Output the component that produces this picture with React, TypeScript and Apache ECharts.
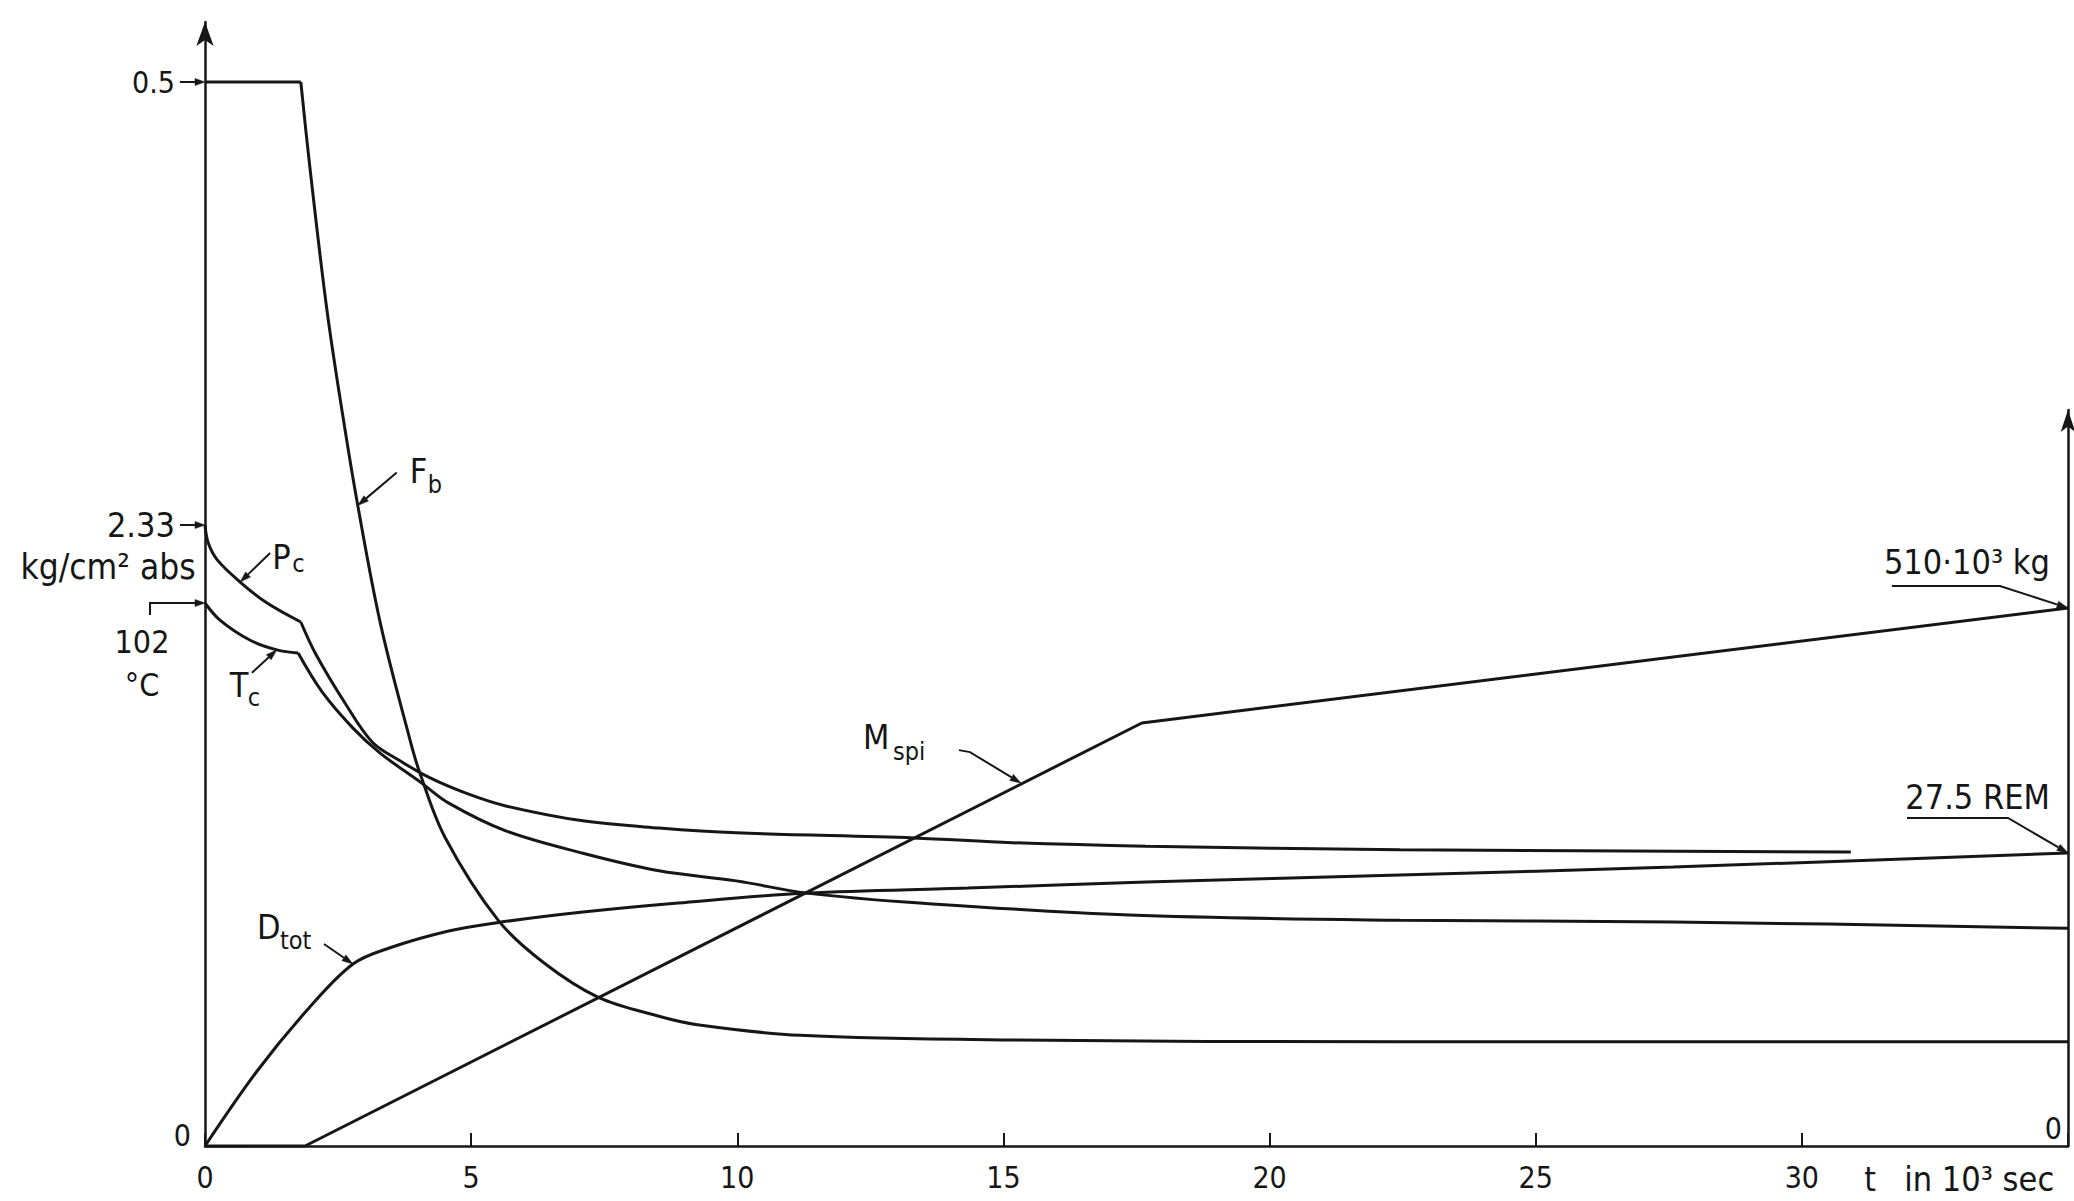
import React, { useEffect, useRef } from "react";
import * as echarts from "echarts";

const FONT = '"DejaVu Sans Condensed", "Liberation Sans Narrow", "DejaVu Sans", sans-serif';
const INK = "#161616";

// ---- x axis: t in 10^3 s ----
const tTicks = [0, 5, 10, 15, 20, 25, 30];
const T_MAX = 35;

// ---- F_b (left scale, 0 ... 0.5) ----
const fbHoldT = [0, 1.8];
const fbHoldV = [0.5, 0.5];
const fbFallT = [1.8, 1.97, 2.29, 2.59, 2.87, 3.3, 3.85, 4.04, 4.51, 5.51, 6.37, 7.38, 8.53, 9.25, 11.18, 15.16, 22.45, 35];
const fbFallV = [0.5, 0.46, 0.393, 0.343, 0.301, 0.245, 0.191, 0.175, 0.145, 0.106, 0.086, 0.07, 0.061, 0.057, 0.052, 0.0498, 0.049, 0.049];

// ---- P_c in kg/cm2 abs ----
const pcEarlyT = [0, 0.06, 0.23, 0.66, 1.16, 1.8];
const pcEarlyV = [2.33, 2.263, 2.199, 2.116, 2.038, 1.966];
const pcLateT = [1.8, 2.07, 2.63, 3.14, 3.64, 4.23, 4.94, 5.65, 7.1, 8.53, 9.98, 13.32, 15.16, 17.68, 22.45, 30.92];
const pcLateV = [1.966, 1.85, 1.662, 1.516, 1.448, 1.381, 1.321, 1.276, 1.22, 1.193, 1.175, 1.156, 1.138, 1.125, 1.112, 1.103];

// ---- T_c in °C ----
const tcEarlyT = [0, 0.28, 0.85, 1.35, 1.75];
const tcEarlyV = [102, 98.8, 95.0, 93.2, 92.6];
const tcLateT = [1.75, 2.2, 2.78, 3.29, 4.04, 4.58, 5.65, 7.1, 8.53, 9.98, 11.31, 13.49, 17.36, 22.45, 27.58, 35];
const tcLateV = [92.6, 85.3, 78.5, 73.8, 68.4, 64.4, 59.2, 55.0, 51.7, 49.8, 47.5, 45.6, 43.4, 42.4, 42.1, 40.9];

// ---- M_spi in 10^3 kg ----
const mT = [0, 1.88, 17.6, 35];
const mV = [0, 0, 401, 510];

// ---- D_tot in REM ----
const dT = [0, 0.98, 1.92, 2.78, 3.49, 4.58, 5.51, 7.1, 8.89, 11.31, 14.33, 17.68, 22.45, 27.58, 35];
const dV = [0, 7.04, 12.76, 17.08, 18.63, 20.18, 20.98, 21.96, 22.81, 23.74, 24.21, 24.78, 25.43, 26.18, 27.5];

// ---- annotated values ----
const fbTop = [0, 0.5];
const pcStart = [0, 2.33];
const tcStart = [0, 102];
const mEnd = [35, 510];
const dEnd = [35, 27.5];
const fbTip = [2.87, 0.301];
const pcTip = [0.66, 2.116];
const tcTip = [1.35, 93.2];
const dTip = [2.78, 17.08];
const mTip = [15.33, 344];
const axisNameAt = [31.17, 0];

// ---- axis ranges (each curve has its own scale) ----
const FB_AXIS_MAX = 0.5282;
const PC_AXIS_MAX = 4.2173;
const TC_AXIS_MAX = 211.14;
const M_AXIS_MAX = 697.7;
const D_AXIS_MAX = 69.08;

const zip = (t: number[], v: number[]) => t.map((x, i) => [x, v[i]]);

function curve(id: string, xi: number, yi: number, t: number[], v: number[], smooth: number | boolean) {
  return {
    type: "line",
    id,
    xAxisIndex: xi,
    yAxisIndex: yi,
    data: zip(t, v),
    showSymbol: false,
    symbol: "none",
    smooth,
    clip: false,
    silent: true,
    lineStyle: { color: INK, width: 3 },
    z: 3,
  };
}

function arrow(points: number[][], head = 11, w = 7, lw = 2) {
  const n = points.length;
  const [x1, y1] = points[n - 2];
  const [x2, y2] = points[n - 1];
  const dx = x2 - x1;
  const dy = y2 - y1;
  const L = Math.hypot(dx, dy) || 1;
  const ux = dx / L;
  const uy = dy / L;
  const bx = x2 - ux * head;
  const by = y2 - uy * head;
  const nx = -uy;
  const ny = ux;
  const body = points.slice(0, n - 1).concat([[bx, by]]);
  return [
    { type: "polyline", silent: true, z: 10, shape: { points: body }, style: { stroke: INK, lineWidth: lw, fill: null } },
    {
      type: "polygon",
      silent: true,
      z: 10,
      shape: { points: [[x2, y2], [bx + (nx * w) / 2, by + (ny * w) / 2], [bx - (nx * w) / 2, by - (ny * w) / 2]] },
      style: { fill: INK, stroke: INK, lineWidth: 0.5 },
    },
  ];
}

function text(p: number[], s: string, size: number, align = "left") {
  return {
    type: "text",
    x: p[0],
    y: p[1],
    silent: true,
    z: 10,
    style: {
      text: s,
      fill: INK,
      fontSize: size,
      fontFamily: FONT,
      align,
      textAlign: align,
      verticalAlign: "middle",
      textVerticalAlign: "middle",
    },
  };
}

const off = (p: number[], dx: number, dy: number) => [p[0] + dx, p[1] + dy];

export default function App() {
  const ref = useRef<HTMLDivElement>(null);

  useEffect(() => {
    document.body.style.margin = "0";
    const el = ref.current!;
    const chart = echarts.init(el, null, { renderer: "svg", width: 2074, height: 1201 });

    const labelBase = { color: INK, fontFamily: FONT, fontSize: 30 };

    const option: any = {
      animation: false,
      backgroundColor: "#ffffff",
      textStyle: { fontFamily: FONT, color: INK },
      grid: [
        { left: 205, top: 22, width: 1863, height: 1124, containLabel: false, outerBoundsMode: "none" },
        { left: 205, top: 410, width: 1863, height: 736, containLabel: false, outerBoundsMode: "none" },
      ],
      xAxis: [
        {
          type: "value",
          gridIndex: 0,
          min: 0,
          max: T_MAX,
          interval: 5,
          axisLine: { show: true, onZero: false, lineStyle: { color: INK, width: 2.5 } },
          axisTick: { show: true, inside: true, length: 13, lineStyle: { color: INK, width: 2 } },
          axisLabel: {
            ...labelBase,
            margin: 16,
            formatter: (v: number) => (tTicks.includes(v) ? String(v) : ""),
          },
          splitLine: { show: false },
        },
        { type: "value", gridIndex: 1, min: 0, max: T_MAX, show: false },
      ],
      yAxis: [
        {
          type: "value",
          gridIndex: 0,
          min: 0,
          max: FB_AXIS_MAX,
          interval: 0.5,
          position: "left",
          axisLine: {
            show: true,
            onZero: false,
            symbol: ["none", "arrow"],
            symbolSize: [13, 24],
            lineStyle: { color: INK, width: 2.5 },
          },
          axisTick: { show: false },
          splitLine: { show: false },
          axisLabel: {
            ...labelBase,
            margin: 14,
            showMaxLabel: false,
            formatter: (v: number) => (v === 0 ? "{z|0}" : Math.abs(v - 0.5) < 1e-9 ? "{h|0.5}" : ""),
            rich: {
              z: { ...labelBase, padding: [0, 0, 22, 0] },
              h: { ...labelBase, padding: [0, 16, 0, 0] },
            },
          },
        },
        { type: "value", gridIndex: 0, min: 0, max: PC_AXIS_MAX, show: false },
        { type: "value", gridIndex: 0, min: 0, max: TC_AXIS_MAX, show: false },
        {
          type: "value",
          gridIndex: 1,
          min: 0,
          max: M_AXIS_MAX,
          position: "right",
          axisLine: {
            show: true,
            onZero: false,
            symbol: ["none", "arrow"],
            symbolSize: [11, 22],
            lineStyle: { color: INK, width: 2.5 },
          },
          axisTick: { show: false },
          splitLine: { show: false },
          axisLabel: {
            ...labelBase,
            inside: true,
            margin: 6,
            formatter: (v: number) => (v === 0 ? "{z|0}" : ""),
            rich: { z: { ...labelBase, padding: [0, 0, 36, 0] } },
          },
        },
        { type: "value", gridIndex: 1, min: 0, max: D_AXIS_MAX, show: false, position: "right" },
      ],
      series: [
        curve("fbHold", 0, 0, fbHoldT, fbHoldV, false),
        curve("fbFall", 0, 0, fbFallT, fbFallV, 0.35),
        curve("pcEarly", 0, 1, pcEarlyT, pcEarlyV, 0.35),
        curve("pcLate", 0, 1, pcLateT, pcLateV, 0.35),
        curve("tcEarly", 0, 2, tcEarlyT, tcEarlyV, 0.35),
        curve("tcLate", 0, 2, tcLateT, tcLateV, 0.35),
        curve("mspi", 1, 3, mT, mV, false),
        curve("dtot", 1, 4, dT, dV, 0.35),
      ],
    };

    chart.setOption(option);

    const P = (si: number, d: number[]) => chart.convertToPixel({ seriesIndex: si }, d) as number[];
    const els: any[] = [];

    // 0.5 marker arrow
    const a05 = P(0, fbTop);
    els.push(...arrow([off(a05, -25, 0), a05], 10, 7, 2));

    // 2.33 kg/cm2 abs
    const a233 = P(2, pcStart);
    els.push(...arrow([off(a233, -25, 0), a233], 10, 7, 2));
    els.push(text(off(a233, -30, 0), "2.33", 34, "right"));
    els.push(text(off(a233, -97, 42), "kg/cm² abs", 35, "center"));

    // 102 °C
    const a102 = P(4, tcStart);
    els.push(...arrow([off(a102, -55, 12), off(a102, -55, 0), a102], 10, 7, 2));
    els.push(text(off(a102, -63, 39), "102", 32, "center"));
    els.push(text(off(a102, -63, 82), "°C", 32, "center"));

    // F_b
    const fb = P(1, fbTip);
    els.push(...arrow([off(fb, 39, -33), fb]));
    els.push(text(off(fb, 52, -34), "F", 34));
    els.push(text(off(fb, 70, -21), "b", 25));

    // P_c
    const pc = P(2, pcTip);
    els.push(...arrow([off(pc, 30, -29), pc]));
    els.push(text(off(pc, 32, -25), "P", 34));
    els.push(text(off(pc, 52, -19), "c", 25));

    // T_c
    const tc = P(4, tcTip);
    els.push(...arrow([off(tc, -25, 23), tc]));
    els.push(text(off(tc, -47, 35), "T", 34));
    els.push(text(off(tc, -29, 48), "c", 25));

    // D_tot
    const dd = P(7, dTip);
    els.push(...arrow([off(dd, -29, -20), dd]));
    els.push(text(off(dd, -96, -37), "D", 34));
    els.push(text(off(dd, -73, -24), "tot", 25));

    // M_spi
    const mm = P(6, mTip);
    els.push(...arrow([off(mm, -62, -33), off(mm, -51, -31), mm]));
    els.push(text(off(mm, -158, -46), "M", 34));
    els.push(text(off(mm, -128, -32), "spi", 25));

    // 510·10³ kg
    const me = P(6, mEnd);
    els.push(...arrow([off(me, -176, -22), off(me, -68, -22), me]));
    els.push(text(off(me, -18, -46), "510·10³ kg", 34, "right"));

    // 27.5 REM
    const de = P(7, dEnd);
    els.push(...arrow([off(de, -161, -35), off(de, -60, -35), de]));
    els.push(text(off(de, -18, -56), "27.5 REM", 34, "right"));

    // x-axis name
    const xn = P(0, axisNameAt);
    els.push(text(off(xn, 0, 33), "t", 33));
    els.push(text(off(xn, 40, 33), "in 10³ sec", 34));

    chart.setOption({ graphic: { elements: els } });

    return () => chart.dispose();
  }, []);

  return <div ref={ref} style={{ width: 2074, height: 1201, background: "#ffffff" }} />;
}
